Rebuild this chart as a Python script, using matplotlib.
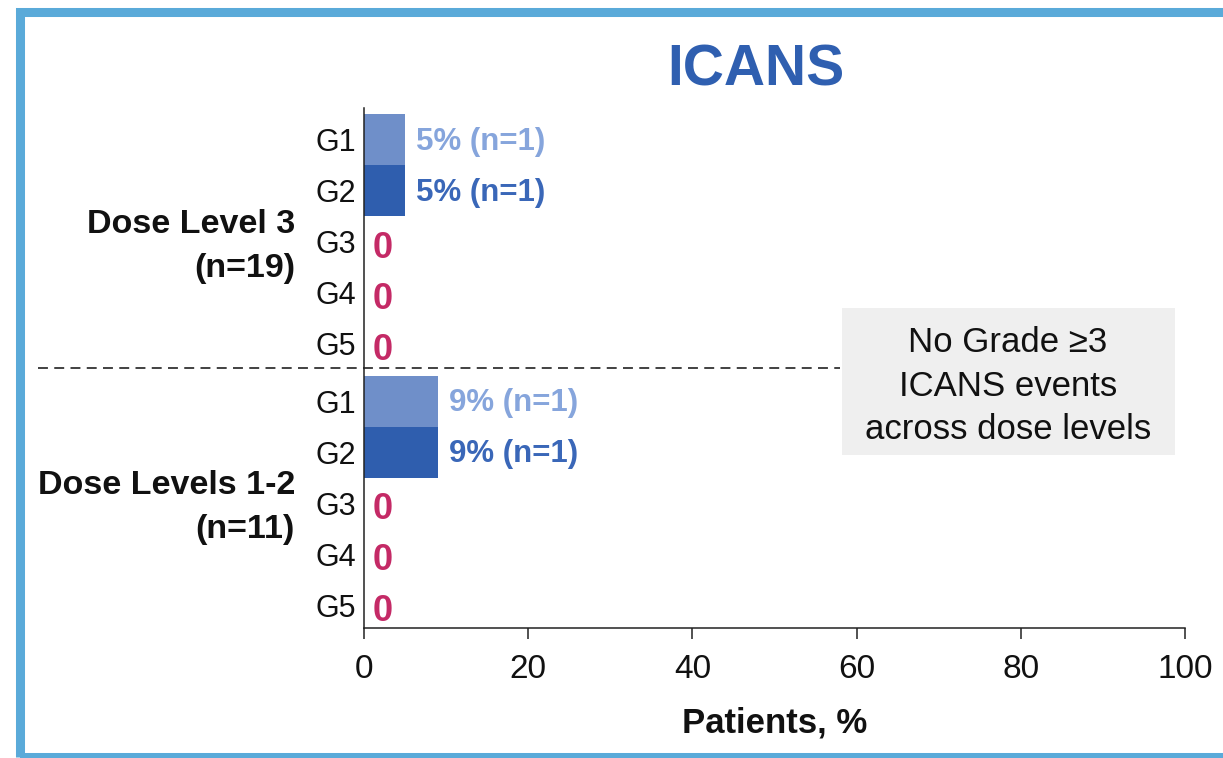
import matplotlib
matplotlib.use("Agg")
import matplotlib.pyplot as plt
from matplotlib.patches import Rectangle

# ---- data ----
grades = ["G1", "G2", "G3", "G4", "G5"]
group_labels = ["Dose Level 3\n(n=19)", "Dose Levels 1-2\n(n=11)"]
pct_dl3 = [5, 5, 0, 0, 0]
n_dl3 = [1, 1, 0, 0, 0]
pct_dl12 = [9, 9, 0, 0, 0]
n_dl12 = [1, 1, 0, 0, 0]
x_ticks = [0, 20, 40, 60, 80, 100]
title = "ICANS"
note = "No Grade \u22653\nICANS events\nacross dose levels"
xlabel = "Patients, %"

# ---- styling ----
plt.rcParams["font.family"] = ["Liberation Sans", "DejaVu Sans"]
INK = "#111111"
BAR_COLORS = {"G1": "#6f8fc9", "G2": "#2f5eae"}
LABEL_COLORS = {"G1": "#86a5dc", "G2": "#3a67b8"}
ZERO_COLOR = "#c42a66"
TITLE_COLOR = "#2f5fb0"
FRAME_COLOR = "#5aaad9"

W, H = 1223, 758
fig = plt.figure(figsize=(W / 100, H / 100), dpi=100)
fig.patch.set_facecolor("white")


def fx(px):
    return px / W


def fy(py):
    return 1 - py / H


# outer slide frame
fig.patches.append(Rectangle((fx(19.5), fy(756.5)), fx(1240) - fx(19.5), fy(11.5) - fy(756.5),
                             transform=fig.transFigure, fill=False,
                             edgecolor=FRAME_COLOR, linewidth=6.5, zorder=0))

ax = fig.add_axes([fx(364), fy(628), fx(1185) - fx(364), (628 - 108) / H])

group_offsets = [0.0, 5.12]
series = [(pct_dl3, n_dl3), (pct_dl12, n_dl12)]

ytick_pos, ytick_lab = [], []
for off, (pcts, ns), glabel in zip(group_offsets, series, group_labels):
    for i, (g, p, n) in enumerate(zip(grades, pcts, ns)):
        y = off + i
        ytick_pos.append(y)
        ytick_lab.append(g)
        if p > 0:
            ax.barh(y, p, height=1.0, color=BAR_COLORS[g], linewidth=0, zorder=2)
            ax.annotate(f"{p}% (n={n})", xy=(p, y), xytext=(8, -1.5),
                        textcoords="offset points", ha="left", va="center",
                        fontsize=22.5, fontweight="bold", color=LABEL_COLORS[g])
        else:
            ax.annotate("0", xy=(0, y), xytext=(6, -4.5), textcoords="offset points",
                        ha="left", va="center", fontsize=26, fontweight="bold",
                        color=ZERO_COLOR)
    ax.text(-0.084, off + 2.09, glabel, transform=ax.get_yaxis_transform(),
            ha="right", va="center", multialignment="right",
            fontsize=24.5, fontweight="bold", color=INK, linespacing=1.55)

# dashed separator between dose groups
sep_y = 4.47
ax.plot([-39.7, 58.0], [sep_y, sep_y], color="#333333", linewidth=1.3,
        linestyle=(0, (5.5, 3.5)), clip_on=False, zorder=1)

ax.set_xlim(0, 100)
ax.set_ylim(9.57, -0.627)
ax.set_xticks(x_ticks)
ax.set_xticklabels([str(t) for t in x_ticks])
ax.set_yticks(ytick_pos)
ax.set_yticklabels(ytick_lab)

for s in ("top", "right"):
    ax.spines[s].set_visible(False)
for s in ("left", "bottom"):
    ax.spines[s].set_linewidth(1.1)
    ax.spines[s].set_color("#222222")

ax.tick_params(axis="x", length=8, width=1.1, color="#222222", pad=11,
               labelsize=24, labelcolor=INK)
ax.tick_params(axis="y", length=0, pad=6, labelsize=22, labelcolor=INK)

fig.text(fx(774.5), fy(723), xlabel, ha="center", va="center",
         fontsize=25, fontweight="bold", color=INK)
fig.text(fx(756), fy(71), title, ha="center", va="center",
         fontsize=41, fontweight="bold", color=TITLE_COLOR)

# note box
fig.patches.append(Rectangle((fx(842), fy(455)), fx(1175) - fx(842), fy(308) - fy(455),
                             transform=fig.transFigure, facecolor="#efefef",
                             edgecolor="none", zorder=0))
fig.text(fx(1008), fy(386), note, ha="center", va="center", fontsize=25,
         color=INK, linespacing=1.4)

fig.savefig("out.png", dpi=100, facecolor="white")
